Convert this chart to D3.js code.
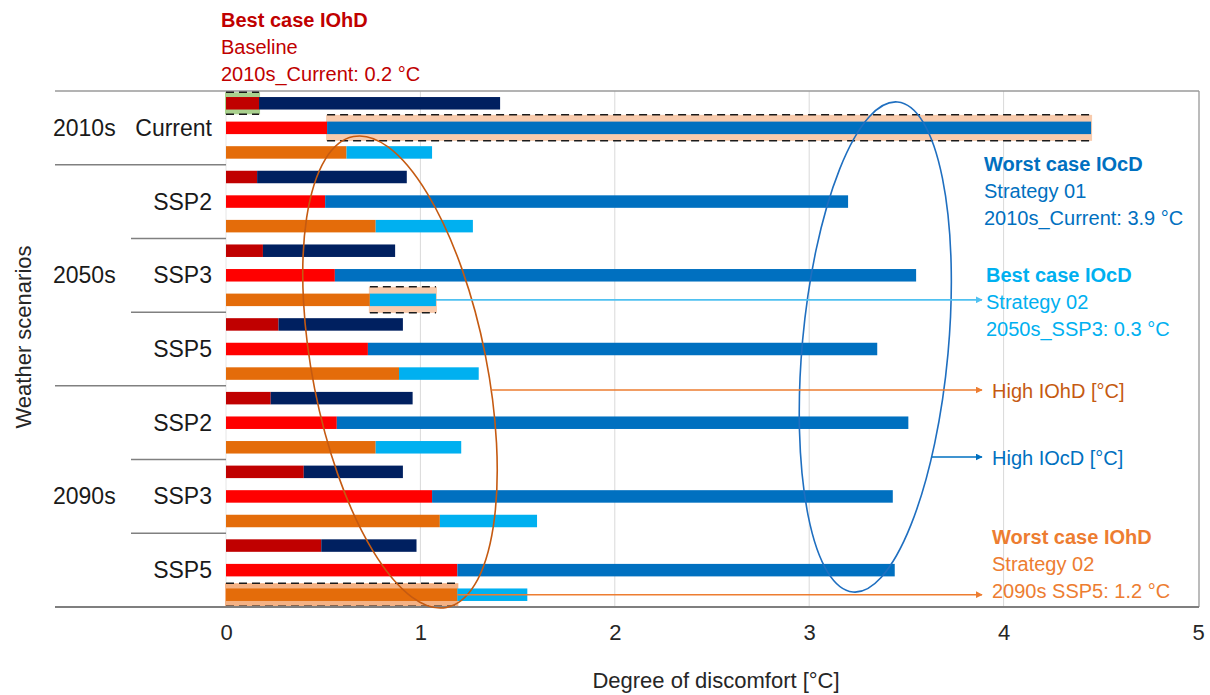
<!DOCTYPE html>
<html>
<head>
<meta charset="utf-8">
<script src="https://cdn.jsdelivr.net/npm/d3@7"></script>
<style>
  body { margin: 0; background: #fff; }
  svg text { font-family: "Liberation Sans", Arial, sans-serif; }
</style>
</head>
<body>
<div id="chart"></div>
<script>
// scenarios, top to bottom
let decades = ["2010s", "2050s", "2050s", "2050s", "2090s", "2090s", "2090s"];
let climates = ["Current", "SSP2", "SSP3", "SSP5", "SSP2", "SSP3", "SSP5"];
let strategies = ["Baseline", "Strategy 01", "Strategy 02"];

// IOhD = hot discomfort, IOcD = cold discomfort [°C], stacked
let baselineIOhD   = [0.17, 0.16, 0.19, 0.27, 0.23, 0.40, 0.49];
let baselineIOcD   = [1.24, 0.77, 0.68, 0.64, 0.73, 0.51, 0.49];
let strategy01IOhD = [0.52, 0.51, 0.56, 0.73, 0.57, 1.06, 1.19];
let strategy01IOcD = [3.93, 2.69, 2.99, 2.62, 2.94, 2.37, 2.25];
let strategy02IOhD = [0.62, 0.77, 0.74, 0.89, 0.77, 1.10, 1.19];
let strategy02IOcD = [0.44, 0.50, 0.34, 0.41, 0.44, 0.50, 0.36];

let xTicks = [0, 1, 2, 3, 4, 5];

function chartConfig(){
    let width = 1210;
    let height = 695;
    let left = 226, right = 1198, top = 91, bottom = 607;
    let svg = d3.select("#chart")
                .append("svg")
                .attr("width", width)
                .attr("height", height);
    return { width, height, left, right, top, bottom, svg };
}

function chartScales(config){
    let { left, right, top, bottom } = config;
    let scen = climates.map((c, i) => decades[i] + " " + c);
    let rows = [];
    scen.forEach(s => strategies.forEach(k => rows.push(s + "|" + k)));
    let xScale = d3.scaleLinear().domain([0, 5]).range([left, right]);
    let groupScale = d3.scaleBand().domain(scen).range([top, bottom]);
    let rowScale = d3.scalePoint().domain(rows).range([top, bottom]).padding(0.5);
    return { xScale, groupScale, rowScale, scen };
}

function drawChart(config, scales){
    let { svg, left, right, top, bottom } = config;
    let { xScale, groupScale, rowScale, scen } = scales;
    let rowY = (s, k) => rowScale(scen[s] + "|" + strategies[k]);
    let barH = 12.5;

    let hot  = [baselineIOhD, strategy01IOhD, strategy02IOhD];
    let cold = [baselineIOcD, strategy01IOcD, strategy02IOcD];
    let hotColors  = ["#c00000", "#ff0000", "#e46c0a"];
    let coldColors = ["#002060", "#0070c0", "#00b0f0"];

    // grid
    xTicks.slice(1, 5).forEach(t => {
        svg.append("line")
            .attr("x1", xScale(t)).attr("x2", xScale(t))
            .attr("y1", top).attr("y2", bottom)
            .style("stroke", "#d9d9d9").style("stroke-width", 1);
    });
    svg.append("line")
        .attr("x1", xScale(0)).attr("x2", xScale(0))
        .attr("y1", top).attr("y2", bottom)
        .style("stroke", "#e6e6e6");
    svg.append("line")
        .attr("x1", right + 1).attr("x2", right + 1)
        .attr("y1", top).attr("y2", bottom)
        .style("stroke", "#a6a6a6").style("stroke-width", 1.5);

    // scenario separators
    scen.forEach((s, i) => {
        if (i === 0) return;
        let newDecade = decades[i] !== decades[i - 1];
        svg.append("line")
            .attr("x1", newDecade ? 55 : 131).attr("x2", left)
            .attr("y1", groupScale(s)).attr("y2", groupScale(s))
            .style("stroke", "#808080").style("stroke-width", 1.5);
    });
    svg.append("line")
        .attr("x1", 55).attr("x2", right + 1)
        .attr("y1", top).attr("y2", top)
        .style("stroke", "#9a9a9a").style("stroke-width", 1.5);

    // highlight boxes behind bars: [scenario, strategy, from, to, colour, half height]
    let highlights = [
        [0, 0, 0, baselineIOhD[0], "#a9d18e", 11],
        [0, 1, strategy01IOhD[0], strategy01IOhD[0] + strategy01IOcD[0], "#f8cbad", 13],
        [2, 2, strategy02IOhD[2], strategy02IOhD[2] + strategy02IOcD[2], "#f8cbad", 13],
        [6, 2, 0, strategy02IOhD[6], "#f4b183", 11.5]
    ];
    highlights.forEach(h => {
        let yc = rowY(h[0], h[1]);
        svg.append("rect")
            .attr("x", xScale(h[2]) - 1).attr("width", xScale(h[3]) - xScale(h[2]) + 2)
            .attr("y", yc - h[5]).attr("height", h[5] * 2)
            .style("fill", h[4]);
    });

    // stacked bars
    scen.forEach((s, i) => {
        strategies.forEach((k, j) => {
            let yc = rowY(i, j);
            svg.append("rect")
                .attr("x", xScale(0)).attr("width", xScale(hot[j][i]) - xScale(0))
                .attr("y", yc - barH / 2).attr("height", barH)
                .style("fill", hotColors[j]);
            svg.append("rect")
                .attr("x", xScale(hot[j][i]))
                .attr("width", xScale(hot[j][i] + cold[j][i]) - xScale(hot[j][i]))
                .attr("y", yc - barH / 2).attr("height", barH)
                .style("fill", coldColors[j]);
        });
    });

    // dashed borders of highlights
    highlights.forEach(h => {
        let yc = rowY(h[0], h[1]);
        [-h[5], h[5]].forEach(d => {
            svg.append("line")
                .attr("x1", xScale(h[2])).attr("x2", xScale(h[3]))
                .attr("y1", yc + d).attr("y2", yc + d)
                .style("stroke", "#1a1a1a").style("stroke-width", 1.5)
                .style("stroke-dasharray", "8,5");
        });
    });

    // bottom axis line
    svg.append("line")
        .attr("x1", 55).attr("x2", right + 1)
        .attr("y1", bottom).attr("y2", bottom)
        .style("stroke", "#7f7f7f").style("stroke-width", 2);

    // x axis labels
    let axisX = d3.axisBottom(xScale)
                  .tickValues(xTicks)
                  .tickFormat(d3.format("d"))
                  .tickSize(0)
                  .tickPadding(17);
    let gx = svg.append("g")
        .attr("transform", "translate(0," + bottom + ")")
        .call(axisX);
    gx.select(".domain").remove();
    gx.selectAll("text")
        .style("font-size", "22px")
        .style("fill", "#262626")
        .style("font-family", "'Liberation Sans', Arial, sans-serif");

    svg.append("text")
        .attr("x", 716).attr("y", 688)
        .style("text-anchor", "middle")
        .style("font-size", "22px")
        .style("fill", "#262626")
        .text("Degree of discomfort [°C]");

    svg.append("text")
        .attr("transform", "translate(31,337) rotate(-90)")
        .style("text-anchor", "middle")
        .style("font-size", "22px")
        .style("fill", "#262626")
        .text("Weather scenarios");

    // y labels
    scen.forEach((s, i) => {
        svg.append("text")
            .attr("x", 212)
            .attr("y", groupScale(s) + groupScale.bandwidth() / 2)
            .attr("dy", "0.35em")
            .style("text-anchor", "end")
            .style("font-size", "23px")
            .style("fill", "#1a1a1a")
            .text(climates[i]);
    });
    let decadeNames = Array.from(new Set(decades));
    decadeNames.forEach(d => {
        let idx = scen.filter((s, i) => decades[i] === d);
        let y0 = groupScale(idx[0]);
        let y1 = groupScale(idx[idx.length - 1]) + groupScale.bandwidth();
        svg.append("text")
            .attr("x", 53)
            .attr("y", (y0 + y1) / 2)
            .attr("dy", "0.35em")
            .style("font-size", "23px")
            .style("fill", "#1a1a1a")
            .text(d);
    });

    annotate(config, scales, rowY);
}

function ellipsePoints(cx, cy, rx, ry, deg){
    let a = deg * Math.PI / 180;
    let pts = [];
    for (let t = 0; t < Math.PI * 2; t += 0.002) {
        pts.push([cx + rx * Math.cos(t) * Math.cos(a) - ry * Math.sin(t) * Math.sin(a),
                  cy + rx * Math.cos(t) * Math.sin(a) + ry * Math.sin(t) * Math.cos(a)]);
    }
    return pts;
}

// right-most crossing of an ellipse at height y
function rightEdge(pts, y){
    let best = null;
    pts.forEach(p => {
        if (Math.abs(p[1] - y) < 0.6 && (best === null || p[0] > best)) best = p[0];
    });
    return best;
}

function annotate(config, scales, rowY){
    let { svg } = config;
    let { xScale } = scales;
    let defs = svg.append("defs");
    let markers = { orange: "#ed7d31", blue: "#0070c0", light: "#4fc1f1" };
    Object.keys(markers).forEach(k => {
        defs.append("marker")
            .attr("id", "arr-" + k)
            .attr("viewBox", "0 0 10 10")
            .attr("refX", 9).attr("refY", 5)
            .attr("markerWidth", 7).attr("markerHeight", 7)
            .attr("markerUnits", "userSpaceOnUse")
            .attr("orient", "auto")
            .append("path")
            .attr("d", "M0,0 L10,5 L0,10 z")
            .style("fill", markers[k]);
    });

    // ellipses
    let hotEll = { cx: xScale(0.895), cy: 372, rx: 87, ry: 240, rot: -11.2 };
    let coldEll = { cx: xScale(3.34), cy: 347, rx: 73, ry: 246, rot: 5.2 };
    [[hotEll, "#c55a11"], [coldEll, "#1f6fc0"]].forEach(e => {
        svg.append("ellipse")
            .attr("cx", 0).attr("cy", 0)
            .attr("rx", e[0].rx).attr("ry", e[0].ry)
            .attr("transform", "translate(" + [e[0].cx, e[0].cy] + ") rotate(" + e[0].rot + ")")
            .style("fill", "none")
            .style("stroke", e[1])
            .style("stroke-width", 1.6);
    });

    let arrowEnd = 982;
    function arrow(x1, y, kind){
        svg.append("line")
            .attr("x1", x1).attr("x2", arrowEnd)
            .attr("y1", y).attr("y2", y)
            .style("stroke", markers[kind])
            .style("stroke-width", 1.6)
            .attr("marker-end", "url(#arr-" + kind + ")");
    }
    // best case IOcD box -> label
    let ySSP3 = rowY(2, 2);
    arrow(xScale(strategy02IOhD[2] + strategy02IOcD[2]), ySSP3, "light");
    let yHot = 390;
    arrow(rightEdge(ellipsePoints(hotEll.cx, hotEll.cy, hotEll.rx, hotEll.ry, hotEll.rot), yHot), yHot, "orange");
    let yCold = 457;
    arrow(rightEdge(ellipsePoints(coldEll.cx, coldEll.cy, coldEll.rx, coldEll.ry, coldEll.rot), yCold), yCold, "blue");
    let yWorst = rowY(6, 2);
    arrow(xScale(strategy02IOhD[6]), yWorst, "orange");

    function block(x, y0, lines, color){
        lines.forEach((l, i) => {
            svg.append("text")
                .attr("x", x).attr("y", y0 + i * 27)
                .style("font-size", "20px")
                .style("font-weight", i === 0 ? "bold" : "normal")
                .style("fill", color)
                .text(l);
        });
    }
    block(221, 27, ["Best case IOhD", "Baseline", "2010s_Current: 0.2 °C"], "#c00000");
    block(984, 171, ["Worst case IOcD", "Strategy 01", "2010s_Current: 3.9 °C"], "#0070c0");
    block(986, 282, ["Best case IOcD", "Strategy 02", "2050s_SSP3: 0.3 °C"], "#00b0f0");
    block(992, yWorst - 51, ["Worst case IOhD", "Strategy 02", "2090s SSP5: 1.2 °C"], "#ed7d31");

    svg.append("text")
        .attr("x", 992).attr("y", yHot + 8)
        .style("font-size", "20px").style("fill", "#c55a11")
        .text("High IOhD [°C]");
    svg.append("text")
        .attr("x", 992).attr("y", yCold + 8)
        .style("font-size", "20px").style("fill", "#0070c0")
        .text("High IOcD [°C]");
}

let config = chartConfig();
let scales = chartScales(config);
drawChart(config, scales);
</script>
</body>
</html>
